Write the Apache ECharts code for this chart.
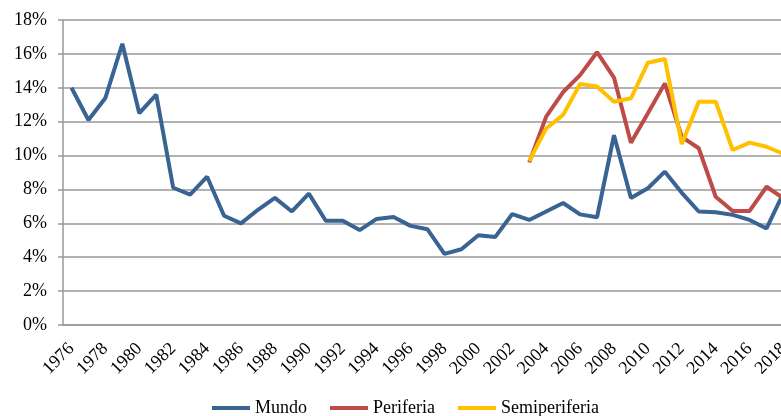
<!DOCTYPE html>
<html>
<head>
<meta charset="utf-8">
<script src="https://cdn.jsdelivr.net/npm/echarts@6/dist/echarts.min.js"></script>
<style>
  html, body { margin: 0; padding: 0; background: #fff; overflow: hidden; }
  #chart { width: 792px; height: 416px; }
</style>
</head>
<body>
<div id="chart"></div>
<script>
// años 1976-2018
var years = [];
for (var y = 1976; y <= 2018; y++) years.push(String(y));

var mundo = [14.0, 12.1, 13.4, 16.6, 12.5, 13.6, 8.1, 7.7, 8.75, 6.45, 6.0, 6.8, 7.5,
  6.7, 7.75, 6.15, 6.15, 5.6, 6.26, 6.37, 5.85, 5.65, 4.2, 4.47, 5.3, 5.2, 6.55,
  6.2, 6.7, 7.2, 6.53, 6.36, 11.2, 7.5, 8.07, 9.05, 7.8, 6.7, 6.65, 6.5, 6.2, 5.7, 7.8];

// periferia y semiperiferia desde 2003
var periferia = [null, null, null, null, null, null, null, null, null, null, null, null, null,
  null, null, null, null, null, null, null, null, null, null, null, null, null, null,
  9.6, 12.3, 13.75, 14.75, 16.1, 14.6, 10.76, 12.5, 14.26, 11.1, 10.43, 7.57, 6.73, 6.73, 8.16, 7.47];

var semiperiferia = [null, null, null, null, null, null, null, null, null, null, null, null, null,
  null, null, null, null, null, null, null, null, null, null, null, null, null, null,
  9.68, 11.6, 12.4, 14.22, 14.07, 13.18, 13.38, 15.48, 15.7, 10.68, 13.18, 13.18, 10.33, 10.76, 10.52, 10.09];

var font = 'Liberation Serif';
var chart = echarts.init(document.getElementById('chart'));

chart.setOption({
  animation: false,
  grid: { left: 63, top: 20, right: 0, bottom: 91 },
  legend: {
    bottom: -6,
    left: 207,
    itemWidth: 38,
    itemHeight: 4,
    itemGap: 23,
    icon: 'rect',
    textStyle: { fontFamily: font, fontSize: 18, color: '#000' },
    data: ['Mundo', 'Periferia', 'Semiperiferia']
  },
  xAxis: {
    type: 'category',
    data: years,
    boundaryGap: true,
    axisLine: { lineStyle: { color: '#999', width: 1.5 } },
    axisTick: { alignWithLabel: false, interval: 0, length: 5, lineStyle: { color: '#999', width: 1.5 } },
    axisLabel: {
      interval: 1,
      rotate: 45,
      margin: 21,
      fontFamily: font,
      fontSize: 18,
      color: '#000'
    }
  },
  yAxis: {
    type: 'value',
    min: 0,
    max: 18,
    interval: 2,
    axisLine: { show: true, lineStyle: { color: '#999', width: 1.5 } },
    axisTick: { show: true, length: 5, lineStyle: { color: '#999', width: 1.5 } },
    splitLine: { lineStyle: { color: '#999', width: 1.5 } },
    axisLabel: {
      margin: 16,
      formatter: '{value}%',
      fontFamily: font,
      fontSize: 18,
      color: '#000'
    }
  },
  series: [
    {
      name: 'Mundo',
      type: 'line',
      data: mundo,
      symbol: 'none',
      color: '#386393',
      lineStyle: { width: 4 }
    },
    {
      name: 'Periferia',
      type: 'line',
      data: periferia,
      symbol: 'none',
      color: '#BE4B48',
      lineStyle: { width: 4 }
    },
    {
      name: 'Semiperiferia',
      type: 'line',
      data: semiperiferia,
      symbol: 'none',
      color: '#FFC000',
      lineStyle: { width: 4 }
    }
  ]
});
</script>
</body>
</html>
